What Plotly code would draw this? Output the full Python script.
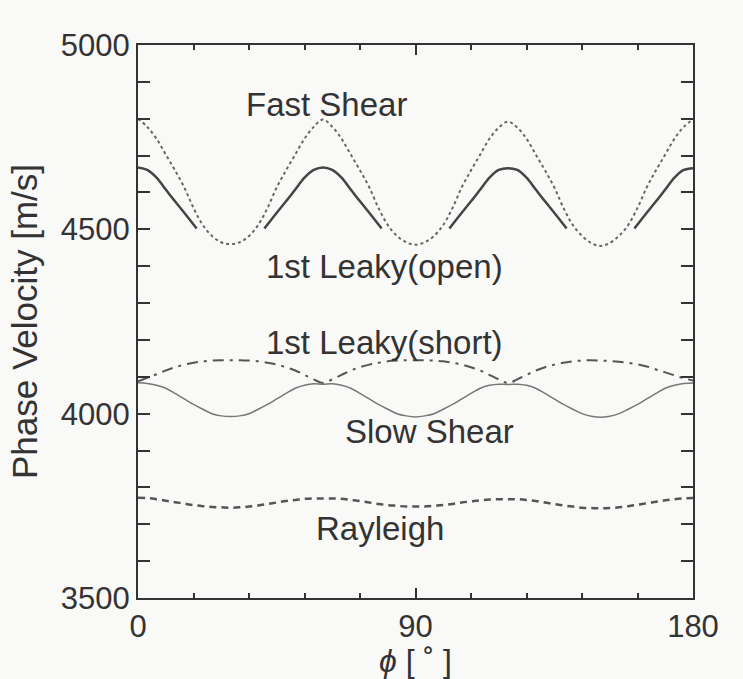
import plotly.graph_objects as go

# ---- data ----
phi = list(range(0, 181, 3))

fast_shear = [4800, 4778, 4746, 4703, 4660, 4614, 4558, 4512, 4482, 4465, 4460,
              4465, 4482, 4512, 4558, 4614, 4660, 4703, 4746, 4778, 4798,
              4778, 4746, 4703, 4660, 4614, 4558, 4512, 4482, 4465, 4458,
              4465, 4482, 4512, 4558, 4614, 4660, 4703, 4746, 4776, 4792,
              4776, 4746, 4703, 4660, 4614, 4558, 4512, 4482, 4463, 4455,
              4463, 4482, 4512, 4558, 4614, 4660, 4703, 4746, 4778, 4798]

leaky_open_phi = [0, 3, 6, 9, 12, 15, 18, 19, None,
                  41, 42, 45, 48, 51, 54, 57, 60, 63, 66, 69, 72, 75, 78, 79, None,
                  101, 102, 105, 108, 111, 114, 117, 120, 123, 126, 129, 132, 135, 138, 139, None,
                  161, 162, 165, 168, 171, 174, 177, 180]
leaky_open = [4668, 4661, 4640, 4608, 4576, 4545, 4513, 4502, None,
              4502, 4513, 4545, 4576, 4608, 4640, 4661, 4668, 4661, 4640, 4608, 4576, 4545, 4513, 4502, None,
              4502, 4513, 4545, 4576, 4608, 4640, 4661, 4666, 4661, 4640, 4608, 4576, 4545, 4513, 4502, None,
              4502, 4513, 4545, 4576, 4608, 4640, 4661, 4666]

leaky_short = [4088, 4097, 4107, 4117, 4126, 4133, 4138, 4142, 4144, 4145, 4145,
               4145, 4144, 4142, 4138, 4133, 4126, 4117, 4105, 4093, 4083,
               4093, 4105, 4117, 4126, 4133, 4138, 4142, 4144, 4145, 4145,
               4145, 4144, 4142, 4138, 4133, 4126, 4117, 4105, 4093, 4083,
               4093, 4105, 4117, 4126, 4133, 4138, 4142, 4144, 4145, 4144,
               4143, 4141, 4138, 4134, 4128, 4120, 4112, 4104, 4096, 4090]

slow_shear = [4084, 4082, 4077, 4069, 4055, 4040, 4025, 4012, 4000, 3994, 3992,
              3994, 4000, 4012, 4025, 4040, 4055, 4069, 4077, 4081, 4080,
              4081, 4077, 4069, 4055, 4040, 4025, 4012, 4000, 3994, 3991,
              3994, 4000, 4012, 4025, 4040, 4055, 4069, 4077, 4080, 4079,
              4080, 4077, 4069, 4055, 4040, 4025, 4012, 4000, 3993, 3990,
              3993, 4000, 4012, 4025, 4040, 4055, 4069, 4077, 4082, 4083]

rayleigh = [3772, 3771, 3768, 3764, 3760, 3756, 3752, 3749, 3747, 3746, 3745,
            3746, 3748, 3751, 3755, 3759, 3763, 3766, 3769, 3770, 3770,
            3770, 3769, 3766, 3763, 3759, 3755, 3752, 3750, 3748, 3748,
            3748, 3750, 3752, 3755, 3759, 3762, 3765, 3767, 3768, 3768,
            3768, 3766, 3763, 3759, 3755, 3751, 3748, 3745, 3744, 3743,
            3744, 3746, 3749, 3753, 3757, 3761, 3765, 3768, 3770, 3771]

labels = ["Fast Shear", "1st Leaky(open)", "1st Leaky(short)", "Slow Shear", "Rayleigh"]
label_x = [61, 80, 80, 94.5, 78.5]
label_y = [4838, 4400, 4192, 3952, 3688]

x_ticks = [0, 90, 180]
y_ticks = [3500, 4000, 4500, 5000]

FONT = "Liberation Sans, Arial, Helvetica, sans-serif"
INK = "#333333"

fig = go.Figure()
fig.add_trace(go.Scatter(x=phi, y=fast_shear, mode="lines", line_shape="spline",
                         line=dict(color="#666666", width=2, dash="dot"), name="Fast Shear"))
fig.add_trace(go.Scatter(x=leaky_open_phi, y=leaky_open, mode="lines", line_shape="spline",
                         connectgaps=False,
                         line=dict(color="#444444", width=2.5), name="1st Leaky(open)"))
fig.add_trace(go.Scatter(x=phi, y=leaky_short, mode="lines", line_shape="spline",
                         line=dict(color="#555555", width=2, dash="11px,6px,3px,6px"), name="1st Leaky(short)"))
fig.add_trace(go.Scatter(x=phi, y=slow_shear, mode="lines", line_shape="spline",
                         line=dict(color="#777777", width=1.5), name="Slow Shear"))
fig.add_trace(go.Scatter(x=phi, y=rayleigh, mode="lines", line_shape="spline",
                         line=dict(color="#555555", width=2.5, dash="7px,5px"), name="Rayleigh"))

for t, xx, yy in zip(labels, label_x, label_y):
    fig.add_annotation(x=xx, y=yy, text=t, showarrow=False, xanchor="center", yanchor="middle",
                       font=dict(family=FONT, size=33, color=INK))

axis_common = dict(showline=True, linecolor="#333333", linewidth=2, mirror="allticks",
                   ticks="inside", tickcolor="#333333", tickwidth=2, showgrid=False,
                   zeroline=False, tickfont=dict(family=FONT, size=31, color=INK))

fig.update_xaxes(range=[0, 180], tickmode="array", tickvals=x_ticks,
                 ticktext=[str(v) for v in x_ticks], ticklen=10,
                 minor=dict(dtick=18, tick0=0, ticks="inside", ticklen=5, tickcolor="#333333", tickwidth=2),
                 title=dict(text="<i>ϕ</i> [ ˚ ]", font=dict(family=FONT, size=32, color=INK), standoff=0),
                 **axis_common)
fig.update_yaxes(range=[3500, 5000], tickmode="array", tickvals=y_ticks,
                 ticktext=[str(v) for v in y_ticks], ticklen=12,
                 minor=dict(dtick=100, tick0=3500, ticks="inside", ticklen=12, tickcolor="#333333", tickwidth=2),
                 title=dict(text="Phase Velocity [m/s]", font=dict(family=FONT, size=35, color=INK), standoff=13),
                 **axis_common)

fig.update_layout(width=743, height=679, margin=dict(l=138, r=50, t=45, b=77),
                  paper_bgcolor="#f9f9f8", plot_bgcolor="#f9f9f8", showlegend=False)

fig.write_html("out.html")
